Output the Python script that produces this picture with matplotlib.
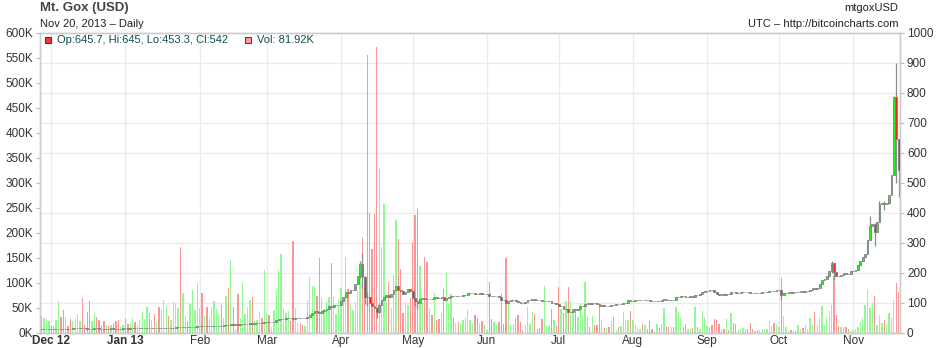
import numpy as np
import pandas as pd
import matplotlib
matplotlib.use('Agg')
import matplotlib.pyplot as plt
from matplotlib.patches import Rectangle
from matplotlib.ticker import MultipleLocator, FuncFormatter

plt.rcParams['font.family'] = ['Liberation Sans', 'DejaVu Sans']

# daily Mt.Gox closes (USD) and volumes (K BTC), month by month
first_open = 12.4
close_2012_11 = [12.3, 12.4, 12.5, 12.6]
vol_2012_11 = [34, 29, 27, 24]
close_2012_12 = [12.5, 12.4, 12.6, 13.0, 12.9, 12.8, 13.3, 13.2, 13.1, 13.4, 13.6, 13.7, 13.8, 13.5, 13.4, 13.3,
                 13.1, 13.2, 13.5, 13.4, 13.3, 13.2, 13.1, 13.3, 13.2, 13.4, 13.3, 13.2, 13.1, 13.3, 13.5]
vol_2012_12 = [14, 14, 26, 64, 31, 46, 32, 14, 28, 24, 28, 38, 24, 70, 16, 42,
               64, 24, 38, 32, 26, 14, 24, 16, 14, 16, 20, 24, 26, 12, 16]
close_2013_01 = [13.4, 13.3, 13.4, 13.5, 13.4, 13.5, 13.6, 13.7, 13.8, 14.1, 14.0, 14.2, 14.1, 14.3, 14.2, 14.6,
                 15.0, 15.5, 15.4, 15.7, 16.3, 17.3, 17.5, 16.9, 17.2, 17.5, 17.2, 17.8, 18.9, 19.6, 20.4]
vol_2013_01 = [28, 18, 20, 30, 22, 16, 26, 42, 28, 52, 40, 26, 38, 22, 52, 46,
               66, 56, 34, 26, 62, 60, 50, 172, 80, 34, 24, 58, 86, 46, 100]
close_2013_02 = [20.6, 20.4, 20.6, 20.5, 20.8, 21.2, 22.0, 22.5, 23.0, 22.5, 23.8, 24.6, 24.0, 27.0,
                 26.5, 26.8, 26.3, 26.8, 29.6, 29.8, 29.9, 30.1, 29.8, 30.2, 30.3, 31.0, 30.8, 33.4]
vol_2013_02 = [50, 80, 34, 52, 30, 52, 64, 48, 38, 56, 30, 74, 90, 146,
               52, 8, 78, 30, 100, 38, 52, 66, 72, 24, 26, 42, 30, 126]
close_2013_03 = [34.5, 34.3, 34.5, 36.2, 40.3, 44.0, 44.5, 45.0, 46.9, 47.5, 46.8, 44.2, 46.9, 47.2, 46.9, 46.7,
                 47.4, 51.0, 59.0, 64.0, 71.0, 69.9, 64.4, 71.5, 74.0, 78.5, 88.9, 86.2, 90.5, 92.2, 93.0]
vol_2013_03 = [40, 36, 12, 46, 86, 126, 158, 48, 40, 44, 24, 184, 50, 20, 20, 16,
               14, 66, 112, 94, 94, 74, 150, 72, 48, 62, 72, 140, 72, 38, 66]
close_2013_04 = [104, 118, 135, 132, 142, 143, 162, 187, 230, 185, 120, 117, 98, 90, 83,
                 68, 93, 110, 119, 126, 119, 127, 142, 154, 141, 137, 128, 134, 144, 139]
vol_2013_04 = [90, 70, 152, 88, 55, 45, 62, 84, 110, 189, 75, 556, 239, 167, 237,
               572, 328, 172, 258, 64, 101, 50, 116, 226, 188, 128, 40, 60, 55, 70]
close_2013_05 = [116, 105, 97, 113, 115, 112, 111, 113, 112, 117, 116, 115, 117, 110, 114, 117,
                 123, 122, 122.5, 121, 122, 124, 126, 131, 131.5, 133, 129, 128, 133, 129, 129.5]
vol_2013_05 = [181, 235, 247, 133, 60, 151, 141, 50, 35, 79, 25, 27, 40, 88, 119, 60,
               78, 30, 20, 22, 18, 25, 30, 45, 25, 20, 35, 30, 20, 24, 16]
close_2013_06 = [129.8, 122, 121, 121.5, 122, 118, 110, 108, 100, 106, 108, 109, 106, 101, 100,
                 99.5, 101, 107, 108, 111, 109, 108, 107, 104, 105, 105.5, 106, 97, 98, 96]
vol_2013_06 = [6, 102, 28, 22, 18, 22, 78, 18, 150, 62, 16, 18, 30, 36, 22,
               6, 16, 52, 18, 42, 38, 8, 10, 28, 94, 14, 14, 48, 26, 14]
close_2013_07 = [88, 90, 78, 79, 68, 69, 77, 76, 77, 88, 89, 94, 98, 94, 98, 97,
                 96.5, 90, 90.5, 89, 90, 89.5, 93, 92.5, 96, 95, 95.5, 97, 99, 107, 106]
vol_2013_07 = [92, 48, 40, 64, 92, 64, 40, 48, 32, 60, 36, 102, 32, 12, 34, 16,
               16, 58, 26, 10, 10, 12, 24, 32, 6, 12, 14, 42, 26, 26, 44]
close_2013_08 = [106.5, 107, 107.5, 108, 107, 107.5, 107, 105, 104, 104.5, 106, 105, 109, 112, 110, 108,
                 110, 109, 117, 120, 122, 121, 119, 120, 121, 120, 126, 125, 127, 135, 138]
vol_2013_08 = [26, 16, 10, 8, 18, 16, 8, 24, 8, 4, 18, 10, 18, 50, 12, 12,
               12, 12, 52, 42, 30, 12, 18, 8, 8, 10, 52, 12, 8, 44, 31]
close_2013_09 = [140, 143, 142, 136, 130, 126, 128, 126, 129, 128, 136, 134, 132, 133, 134,
                 135, 136, 135, 133, 132, 132.5, 132, 133, 134, 134.5, 135, 138, 140, 139, 141]
vol_2013_09 = [14, 11, 16, 28, 25, 18, 6, 8, 28, 6, 40, 20, 18, 6, 8,
               10, 8, 8, 20, 8, 4, 6, 6, 8, 6, 8, 26, 14, 20, 16]
close_2013_10 = [142, 125, 131, 133, 134, 133, 134, 133.5, 136, 137, 136, 138, 140, 143, 150, 146,
                 150, 163, 175, 180, 190, 205, 231, 201, 190, 187, 193, 198, 196, 194, 204]
vol_2013_10 = [11, 110, 34, 12, 4, 6, 6, 4, 16, 8, 10, 16, 8, 30, 16, 42,
               16, 30, 54, 16, 32, 44, 56, 114, 36, 14, 12, 12, 12, 8, 4]
close_2013_11 = [206, 210, 225, 240, 252, 263, 310, 355, 362, 335,
                 370, 430, 433, 430, 432, 460, 525, 785, 645.7, 542]
vol_2013_11 = [5, 8, 12, 22, 30, 55, 86, 50, 60, 74,
               16, 35, 20, 25, 18, 40, 30, 65, 99, 81.92]

# days with visible wicks
wick_days = ['2013-04-09', '2013-04-10', '2013-04-11', '2013-04-12', '2013-04-16', '2013-04-17',
             '2013-05-02', '2013-05-03', '2013-07-05', '2013-10-02', '2013-10-23', '2013-10-24',
             '2013-11-08', '2013-11-10', '2013-11-12', '2013-11-14', '2013-11-18', '2013-11-19',
             '2013-11-20']
wick_hi = [240, 266, 190, 135, 85, 100, 120, 110, 80, 142, 237, 231, 390, 365, 440, 440, 790, 900, 645]
wick_lo = [183, 150, 95, 90, 50, 65, 90, 80, 65, 110, 200, 175, 310, 290, 370, 410, 525, 500, 453.3]

month_labels = ['Dec 12', 'Jan 13', 'Feb', 'Mar', 'Apr', 'May', 'Jun', 'Jul', 'Aug', 'Sep', 'Oct', 'Nov']

closes = np.array(close_2012_11 + close_2012_12 + close_2013_01 + close_2013_02 + close_2013_03 +
                  close_2013_04 + close_2013_05 + close_2013_06 + close_2013_07 + close_2013_08 +
                  close_2013_09 + close_2013_10 + close_2013_11)
vols = np.array(vol_2012_11 + vol_2012_12 + vol_2013_01 + vol_2013_02 + vol_2013_03 +
                vol_2013_04 + vol_2013_05 + vol_2013_06 + vol_2013_07 + vol_2013_08 +
                vol_2013_09 + vol_2013_10 + vol_2013_11) * 1000
dates = pd.date_range('2012-11-27', '2013-11-20', freq='D')
opens = np.r_[first_open, closes[:-1]]
up = closes >= opens

fig = plt.figure(figsize=(9.4, 3.48), dpi=100)
ax = fig.add_axes([40 / 940, 15.5 / 348, 860 / 940, 300 / 348])
ax2 = ax.twinx()

# volume (left axis)
vcol = np.where(up, '#93f793', '#fa9696')
ax.bar(dates, vols, width=0.55, color=vcol, linewidth=0, zorder=2)
ax.set_ylim(0, 600000)
ax.yaxis.set_major_locator(MultipleLocator(50000))
ax.yaxis.set_major_formatter(FuncFormatter(lambda v, p: '%dK' % (v / 1000)))
ax.yaxis.set_minor_locator(MultipleLocator(60000))
ax.grid(which='minor', axis='y', color='#ebebeb', lw=1)
ax.grid(which='major', axis='x', color='#ebebeb', lw=1)
ax.set_axisbelow(True)

# candles (right axis)
ccol = np.where(up, '#22ee22', '#ff2020')
ax2.vlines(pd.to_datetime(wick_days), wick_lo, wick_hi, color='#8c8c8c', lw=0.9, zorder=2)
ax2.bar(dates, np.abs(closes - opens), bottom=np.minimum(opens, closes), width=0.75,
        color=ccol, edgecolor='#808080', linewidth=0.6, zorder=3)
ax2.set_ylim(0, 1000)
ax2.yaxis.set_major_locator(MultipleLocator(100))

ax.set_xlim(pd.Timestamp('2012-11-26 07:00'), pd.Timestamp('2013-11-20 14:00'))
month_starts = pd.date_range('2012-12-01', '2013-11-01', freq='MS')
ax.set_xticks(month_starts)
ax.set_xticklabels(month_labels)
for i, t in enumerate(ax.get_xticklabels()):
    if i < 2:
        t.set_fontweight('bold')

for a in (ax, ax2):
    for s in a.spines.values():
        s.set_color('#cccccc')
        s.set_linewidth(1)
ax.spines['bottom'].set_color('#b8b8b8')
ax.tick_params(axis='x', length=0, labelsize=8.5, labelcolor='#333333', pad=1.5)
ax.tick_params(axis='y', which='major', length=3, color='#bbbbbb', labelsize=8.5,
               labelcolor='#333333', pad=2)
ax.tick_params(axis='y', which='minor', length=0)
ax2.tick_params(axis='y', length=3, color='#bbbbbb', labelsize=8.5, labelcolor='#333333', pad=2)

# header texts
fig.text(40 / 940, 1 - 8 / 348, 'Mt. Gox (USD)', fontsize=9.5, fontweight='bold', color='#444444',
         va='center', ha='left')
fig.text(40 / 940, 1 - 24 / 348, 'Nov 20, 2013 \u2013 Daily', fontsize=8, color='#222222',
         va='center', ha='left')
fig.text(898 / 940, 1 - 8 / 348, 'mtgoxUSD', fontsize=8, color='#222222', va='center', ha='right')
fig.text(898 / 940, 1 - 24 / 348, 'UTC \u2013 http://bitcoincharts.com', fontsize=8, color='#222222',
         va='center', ha='right')

# legend row inside the plot
fig.add_artist(Rectangle((45 / 940, 1 - 43 / 348), 6 / 940, 6 / 348, transform=fig.transFigure,
                         facecolor='#ff3030', edgecolor='#222222', lw=0.6))
fig.text(57 / 940, 1 - 40 / 348, 'Op:%.1f, Hi:%g, Lo:%.1f, Cl:%g' % (opens[-1], wick_hi[-1], wick_lo[-1], closes[-1]),
         fontsize=8, color='#0e4f4f', va='center', ha='left')
fig.add_artist(Rectangle((245 / 940, 1 - 43 / 348), 6 / 940, 6 / 348, transform=fig.transFigure,
                         facecolor='#ff9999', edgecolor='#222222', lw=0.6))
fig.text(257 / 940, 1 - 40 / 348, 'Vol: %.2fK' % (vols[-1] / 1000), fontsize=8, color='#0e4f4f',
         va='center', ha='left')

fig.savefig('out.png', dpi=100)
